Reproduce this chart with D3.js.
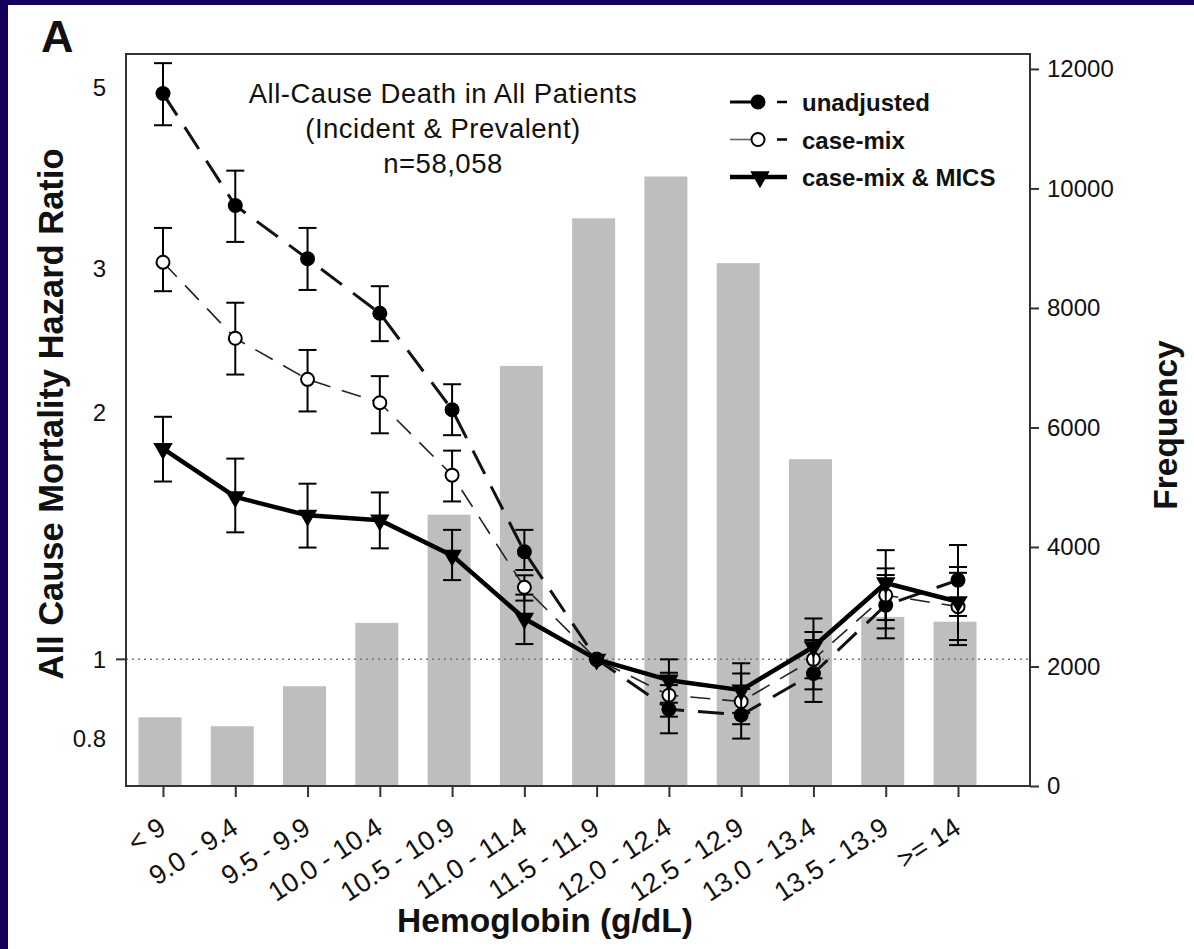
<!DOCTYPE html>
<html>
<head>
<meta charset="utf-8">
<script src="https://cdn.jsdelivr.net/npm/d3@7"></script>
<style>
  html, body { margin: 0; padding: 0; background: #14005a; }
  svg { display: block; }
  text { font-family: "Liberation Sans", Arial, sans-serif; fill: #111; }
</style>
</head>
<body>
<svg id="chart" width="1194" height="949"></svg>
<script>
// Hemoglobin categories (g/dL)
const categories = ["< 9", "9.0 - 9.4", "9.5 - 9.9", "10.0 - 10.4", "10.5 - 10.9", "11.0 - 11.4",
                    "11.5 - 11.9", "12.0 - 12.4", "12.5 - 12.9", "13.0 - 13.4", "13.5 - 13.9", ">= 14"];

// Number of patients per category (right axis)
const frequency = [1150, 1000, 1670, 2730, 4540, 7030, 9500, 10200, 8750, 5470, 2830, 2750];

// Hazard ratios with 95% CI, reference 11.5 - 11.9
const unadjusted   = [4.92, 3.59, 3.09, 2.65, 2.02, 1.354, 1.0, 0.869, 0.855, 0.961, 1.165, 1.25];
const unadjustedLo = [4.50, 3.24, 2.83, 2.45, 1.88, 1.286, 1.0, 0.812, 0.800, 0.887, 1.061, 1.13];
const unadjustedHi = [5.36, 3.96, 3.37, 2.86, 2.17, 1.44,  1.0, 0.93,  0.92,  1.056, 1.268, 1.38];

const caseMix   = [3.06, 2.47, 2.20, 2.06, 1.68, 1.225, 1.0, 0.904, 0.888, 1.0,   1.198, 1.16];
const caseMixLo = [2.82, 2.23, 2.01, 1.89, 1.56, 1.18,  1.0, 0.851, 0.833, 0.919, 1.091, 1.041];
const caseMixHi = [3.37, 2.73, 2.39, 2.22, 1.80, 1.267, 1.0, 0.963, 0.961, 1.08,  1.292, 1.276];

const caseMixMics   = [1.81, 1.58, 1.50, 1.48,  1.34, 1.122, 1.0, 0.943, 0.917, 1.036, 1.24,  1.176];
const caseMixMicsLo = [1.65, 1.43, 1.37, 1.367, 1.25, 1.044, 1.0, 0.885, 0.86,  0.948, 1.117, 1.056];
const caseMixMicsHi = [1.98, 1.76, 1.64, 1.60,  1.44, 1.20,  1.0, 1.0,   0.989, 1.122, 1.36,  1.297];

// Axis tick values
const hrTicks = [0.8, 1, 2, 3, 5];
const freqTicks = [0, 2000, 4000, 6000, 8000, 10000, 12000];

const titleLines = ["All-Cause Death in All Patients", "(Incident & Prevalent)", "n=58,058"];

const svg = d3.select("#chart");

// white panel inside the dark frame
svg.append("rect").attr("x", 8).attr("y", 5).attr("width", 1186).attr("height", 944).attr("fill", "#ffffff");

const plot = { left: 126, right: 1030, top: 54, bottom: 786 };

const x = d3.scalePoint().domain(categories).range([163, 958]);
const barW = 43;
const yHR = d3.scaleLog().domain([0.7, 5.5]).range([plot.bottom, plot.top]);
const yFreq = d3.scaleLinear().domain([0, 12250]).range([plot.bottom, plot.top]);

// frequency bars
svg.append("g").selectAll("rect").data(categories).join("rect")
  .attr("x", (d) => x(d) - barW / 2 - 3)
  .attr("width", barW)
  .attr("y", (d, i) => yFreq(frequency[i]))
  .attr("height", (d, i) => yFreq(0) - yFreq(frequency[i]))
  .attr("fill", "#bebebe");

// reference line at HR = 1
svg.append("line")
  .attr("x1", plot.left).attr("x2", plot.right)
  .attr("y1", yHR(1)).attr("y2", yHR(1))
  .attr("stroke", "#777").attr("stroke-width", 1.5).attr("stroke-dasharray", "2,4");

// plot frame
svg.append("rect")
  .attr("x", plot.left).attr("y", plot.top)
  .attr("width", plot.right - plot.left).attr("height", plot.bottom - plot.top)
  .attr("fill", "none").attr("stroke", "#333").attr("stroke-width", 2);

// left axis (log HR)
const leftAxis = svg.append("g").attr("transform", `translate(${plot.left},0)`)
  .call(d3.axisLeft(yHR).tickValues(hrTicks).tickFormat(d3.format("")).tickSize(0).tickPadding(20));
leftAxis.select(".domain").remove();
leftAxis.selectAll("text").attr("font-size", 24).style("font-family", "'Liberation Sans', Arial, sans-serif");
svg.append("line").attr("x1", plot.left - 10).attr("x2", plot.left)
  .attr("y1", yHR(1)).attr("y2", yHR(1)).attr("stroke", "#333").attr("stroke-width", 2);

// right axis (frequency)
const rightAxis = svg.append("g").attr("transform", `translate(${plot.right},0)`)
  .call(d3.axisRight(yFreq).tickValues(freqTicks).tickFormat(d3.format("d")).tickSize(9).tickPadding(8));
rightAxis.select(".domain").remove();
rightAxis.selectAll("line").attr("stroke", "#333").attr("stroke-width", 2);
rightAxis.selectAll("text").attr("font-size", 24).style("font-family", "'Liberation Sans', Arial, sans-serif");

// bottom axis
const bottomAxis = svg.append("g").attr("transform", `translate(0,${plot.bottom})`)
  .call(d3.axisBottom(x).tickSize(11).tickPadding(6));
bottomAxis.select(".domain").remove();
bottomAxis.selectAll("line").attr("stroke", "#333").attr("stroke-width", 2);
bottomAxis.selectAll("text")
  .attr("font-size", 27)
  .style("font-family", "'Liberation Sans', Arial, sans-serif")
  .attr("text-anchor", "end")
  .attr("dy", null)
  .attr("y", 0)
  .attr("transform", "translate(4,46) rotate(-33)");

// axis titles
svg.append("text").attr("transform", "translate(63,414) rotate(-90)")
  .attr("text-anchor", "middle").attr("font-size", 34.5).attr("font-weight", "bold")
  .text("All Cause Mortality Hazard Ratio");
svg.append("text").attr("transform", "translate(1177,425) rotate(-90)")
  .attr("text-anchor", "middle").attr("font-size", 33.5).attr("font-weight", "bold")
  .text("Frequency");
svg.append("text").attr("x", 545).attr("y", 932)
  .attr("text-anchor", "middle").attr("font-size", 33.5).attr("font-weight", "bold")
  .text("Hemoglobin (g/dL)");

// panel letter
svg.append("text").attr("x", 41).attr("y", 52).attr("font-size", 45).attr("font-weight", "bold").text("A");

// chart title
svg.append("g").selectAll("text").data(titleLines).join("text")
  .attr("x", 443).attr("y", (d, i) => 103 + i * 35)
  .attr("text-anchor", "middle").attr("font-size", 27.5).attr("letter-spacing", 0.5)
  .text((d) => d);

// series definitions
const series = [
  { name: "unadjusted", v: unadjusted, lo: unadjustedLo, hi: unadjustedHi,
    width: 3, dash: "26,14", stroke: "#111", marker: "dot" },
  { name: "case-mix", v: caseMix, lo: caseMixLo, hi: caseMixHi,
    width: 1.6, dash: "20,12", stroke: "#222", marker: "open" },
  { name: "case-mix & MICS", v: caseMixMics, lo: caseMixMicsLo, hi: caseMixMicsHi,
    width: 4.5, dash: null, stroke: "#000", marker: "tri" }
];

const line = d3.line().x((d) => x(d.c)).y((d) => yHR(d.v));
const triangle = d3.symbol().type(d3.symbolTriangle).size(165);

function drawMarker(g, kind, cx, cy) {
  if (kind === "dot") {
    g.append("circle").attr("cx", cx).attr("cy", cy).attr("r", 7.5).attr("fill", "#000");
  } else if (kind === "open") {
    g.append("circle").attr("cx", cx).attr("cy", cy).attr("r", 6.5)
      .attr("fill", "#fff").attr("stroke", "#000").attr("stroke-width", 2);
  } else {
    g.append("path").attr("d", triangle)
      .attr("transform", `translate(${cx},${cy}) rotate(180)`).attr("fill", "#000");
  }
}

series.forEach((s) => {
  const pts = categories.map((c, i) => ({ c, v: s.v[i], lo: s.lo[i], hi: s.hi[i] }));
  const g = svg.append("g");
  // error bars
  pts.filter((p) => p.hi > p.lo).forEach((p) => {
    const cx = x(p.c);
    g.append("line").attr("x1", cx).attr("x2", cx).attr("y1", yHR(p.hi)).attr("y2", yHR(p.lo))
      .attr("stroke", "#000").attr("stroke-width", 2);
    [p.hi, p.lo].forEach((e) => {
      g.append("line").attr("x1", cx - 9).attr("x2", cx + 9).attr("y1", yHR(e)).attr("y2", yHR(e))
        .attr("stroke", "#000").attr("stroke-width", 2);
    });
  });
  g.append("path").datum(pts).attr("d", line)
    .attr("fill", "none").attr("stroke", s.stroke).attr("stroke-width", s.width)
    .attr("stroke-dasharray", s.dash).attr("stroke-linejoin", "round");
  pts.forEach((p) => drawMarker(g, s.marker, x(p.c), yHR(p.v)));
});

// legend
const legend = svg.append("g").attr("transform", "translate(730,0)");
series.forEach((s, i) => {
  const ly = 102 + i * 37.5;
  const row = legend.append("g");
  if (s.dash) {
    row.append("line").attr("x1", 0).attr("x2", 28).attr("y1", ly).attr("y2", ly)
      .attr("stroke", s.marker === "open" ? "#666" : "#000").attr("stroke-width", s.width);
    row.append("line").attr("x1", 47).attr("x2", 57).attr("y1", ly).attr("y2", ly)
      .attr("stroke", "#000").attr("stroke-width", 2.5);
  } else {
    row.append("line").attr("x1", 0).attr("x2", 57).attr("y1", ly).attr("y2", ly)
      .attr("stroke", "#000").attr("stroke-width", s.width);
  }
  drawMarker(row, s.marker, s.dash ? 28 : 30, ly);
  row.append("text").attr("x", 72).attr("y", ly + 9)
    .attr("font-size", 24).attr("font-weight", "bold").text(s.name);
});
</script>
</body>
</html>
